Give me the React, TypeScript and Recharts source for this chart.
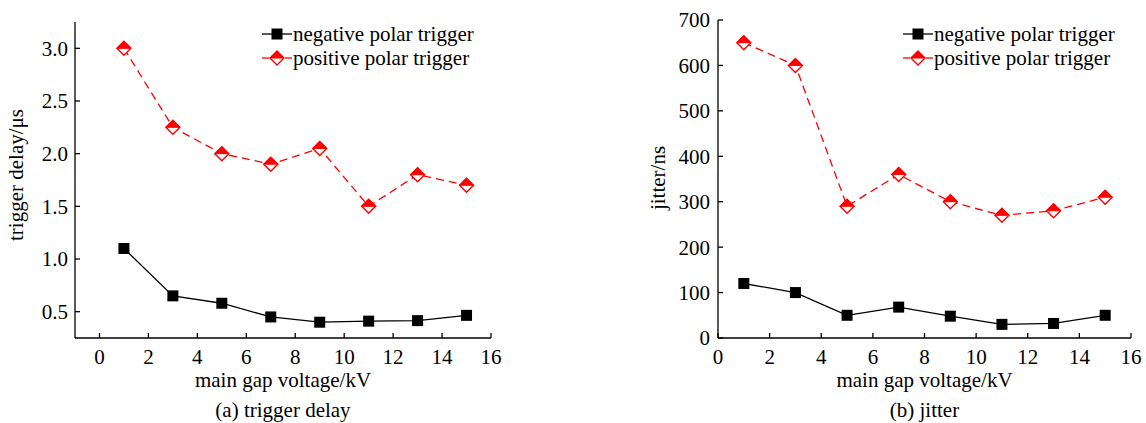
import React from 'react';
import { LineChart, Line, XAxis, YAxis, Legend, Label } from 'recharts';

const voltages = [1, 3, 5, 7, 9, 11, 13, 15];
const delayNegative = [1.1, 0.65, 0.58, 0.45, 0.4, 0.41, 0.415, 0.465];
const delayPositive = [3.0, 2.25, 2.0, 1.9, 2.05, 1.5, 1.8, 1.7];
const jitterNegative = [120, 100, 50, 68, 48, 30, 32, 50];
const jitterPositive = [650, 600, 290, 360, 300, 270, 280, 310];

const xTicks = [0, 2, 4, 6, 8, 10, 12, 14, 16];
const delayTicks = [0.5, 1.0, 1.5, 2.0, 2.5, 3.0];
const jitterTicks = [0, 100, 200, 300, 400, 500, 600, 700];
const legendNames = ['negative polar trigger', 'positive polar trigger'];

const delayData = voltages.map((v, i) => ({ v, neg: delayNegative[i], pos: delayPositive[i] }));
const jitterData = voltages.map((v, i) => ({ v, neg: jitterNegative[i], pos: jitterPositive[i] }));

const FONT = '"Liberation Serif", "Times New Roman", serif';
const RED = '#ff0000';

const Square = (props: any) => {
  const { cx, cy, index } = props;
  if (cx == null || cy == null) return <g key={'s' + index} />;
  return <rect key={'s' + index} x={cx - 5.5} y={cy - 5.5} width={11} height={11} fill="#000" />;
};

const Diamond = (props: any) => {
  const { cx, cy, index } = props;
  if (cx == null || cy == null) return <g key={'d' + index} />;
  const r = 7;
  return (
    <g key={'d' + index}>
      <polygon points={`${cx},${cy - r} ${cx + r},${cy} ${cx},${cy + r} ${cx - r},${cy}`} fill="#fff" stroke={RED} strokeWidth={1.4} />
      <polygon points={`${cx},${cy - r} ${cx + r},${cy} ${cx - r},${cy}`} fill={RED} stroke={RED} strokeWidth={1} />
    </g>
  );
};

const LegendBox = () => (
  <div style={{ fontFamily: FONT, fontSize: 21, color: '#000', lineHeight: '24px' }}>
    {legendNames.map((name, i) => (
      <div key={name} style={{ display: 'flex', alignItems: 'center', height: 24 }}>
        <svg width={31} height={24} style={{ display: 'block' }}>
          {i === 0 ? (
            <>
              <line x1={0} y1={12} x2={30} y2={12} stroke="#000" strokeWidth={1.3} />
              <Square cx={15} cy={12} index={0} />
            </>
          ) : (
            <>
              <line x1={0} y1={12} x2={7} y2={12} stroke={RED} strokeWidth={1.3} />
              <line x1={23} y1={12} x2={30} y2={12} stroke={RED} strokeWidth={1.3} />
              <Diamond cx={15} cy={12} index={0} />
            </>
          )}
        </svg>
        <span style={{ whiteSpace: 'nowrap' }}>{name}</span>
      </div>
    ))}
  </div>
);

const xTitle = (title: string, caption: string) => (props: any) => {
  const vb = props.viewBox || {};
  const cx = vb.x + vb.width / 2;
  return (
    <g>
      <text x={cx} y={vb.y + 49} textAnchor="middle" fontSize={21} fontFamily={FONT} fill="#000">{title}</text>
      <text x={cx} y={vb.y + 79} textAnchor="middle" fontSize={21} fontFamily={FONT} fill="#000">{caption}</text>
    </g>
  );
};

const yTitle = (title: string, bx: number, cy: number) => () => (
  <text x={bx} y={cy} transform={`rotate(-90 ${bx} ${cy})`} textAnchor="middle" fontSize={21} fontFamily={FONT} fill="#000">{title}</text>
);

const tickStyle = { fill: '#000', fontSize: 21, fontFamily: FONT };

export default function App() {
  return (
    <div style={{ position: 'absolute', left: 0, top: 0, width: 1146, height: 423, background: '#fff', fontFamily: FONT }}>
      <div style={{ position: 'absolute', left: 0, top: 0 }}>
        <LineChart width={520} height={423} data={delayData} margin={{ top: 22, right: 29, bottom: 0, left: 0 }}>
          <XAxis type="number" dataKey="v" domain={[-1, 16]} ticks={xTicks} allowDataOverflow height={85}
            stroke="#000" strokeWidth={1.3} tickSize={-5} tickMargin={16} tick={tickStyle} interval={0}>
            <Label content={xTitle('main gap voltage/kV', '(a) trigger delay')} />
          </XAxis>
          <YAxis type="number" domain={[0.25, 3.25]} ticks={delayTicks} allowDataOverflow width={75}
            stroke="#000" strokeWidth={1.3} tickSize={-5} tickMargin={12} tick={tickStyle} interval={0}
            tickFormatter={(v: number) => v.toFixed(1)}>
            <Label content={yTitle('trigger delay/μs', 23, 175)} />
          </YAxis>
          <Line dataKey="neg" stroke="#000" strokeWidth={1.3} dot={Square} isAnimationActive={false} />
          <Line dataKey="pos" stroke={RED} strokeWidth={1.3} strokeDasharray="8 5" dot={Diamond} isAnimationActive={false} />
          <Legend layout="vertical" align="center" verticalAlign="middle" content={LegendBox}
            wrapperStyle={{ left: 262, top: 22, width: 250 }} />
        </LineChart>
      </div>
      <div style={{ position: 'absolute', left: 620, top: 0 }}>
        <LineChart width={526} height={423} data={jitterData} margin={{ top: 20, right: 15, bottom: 0, left: 0 }}>
          <XAxis type="number" dataKey="v" domain={[0, 16]} ticks={xTicks} allowDataOverflow height={85}
            stroke="#000" strokeWidth={1.3} tickSize={-5} tickMargin={16} tick={tickStyle} interval={0}>
            <Label content={xTitle('main gap voltage/kV', '(b) jitter')} />
          </XAxis>
          <YAxis type="number" domain={[0, 700]} ticks={jitterTicks} allowDataOverflow width={98}
            stroke="#000" strokeWidth={1.3} tickSize={-5} tickMargin={13} tick={tickStyle} interval={0}>
            <Label content={yTitle('jitter/ns', 45, 178)} />
          </YAxis>
          <Line dataKey="neg" stroke="#000" strokeWidth={1.3} dot={Square} isAnimationActive={false} />
          <Line dataKey="pos" stroke={RED} strokeWidth={1.3} strokeDasharray="8 5" dot={Diamond} isAnimationActive={false} />
          <Legend layout="vertical" align="center" verticalAlign="middle" content={LegendBox}
            wrapperStyle={{ left: 283, top: 22, width: 240 }} />
        </LineChart>
      </div>
    </div>
  );
}
